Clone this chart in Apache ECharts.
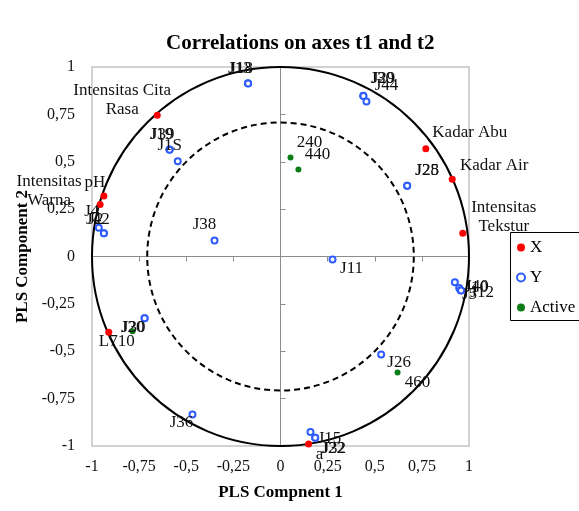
<!DOCTYPE html>
<html>
<head>
<meta charset="utf-8">
<script src="https://cdn.jsdelivr.net/npm/echarts@6/dist/echarts.min.js"></script>
<style>html,body{margin:0;padding:0;background:#fff}#c{width:579px;height:511px}</style>
</head>
<body>
<div id="c"></div>
<script>
// ---- data ----
const xNames = ['Intensitas Cita\nRasa', 'pH', 'Intensitas\nWarna', 'Kadar Abu', 'Kadar Air', 'Intensitas\nTekstur', '', 'L710', 'a'];
const xX = [-0.654, -0.937, -0.957, 0.771, 0.911, 0.967, 0.960, -0.911, 0.149];
const xY = [0.746, 0.319, 0.274, 0.568, 0.407, 0.123, -0.181, -0.400, -0.989];

const yNames = ['J13', 'J18', 'J30', 'J29', 'J44', 'J19', 'J39', 'J1S', 'J4', 'J42', 'J2', 'J38', 'J28', 'J25', 'J11', 'J40', 'J10', 'J5', 'J12', 'J30', 'J20', 'J36', 'J26', 'J15', 'J32', 'J22'];
const yX = [-0.173, -0.172, 0.439, 0.440, 0.456, -0.589, -0.588, -0.545, -0.964, -0.937, -0.937, -0.350, 0.672, 0.672, 0.276, 0.925, 0.948, 0.955, 0.958, -0.721, -0.721, -0.467, 0.534, 0.159, 0.184, 0.184];
const yY = [0.914, 0.913, 0.848, 0.847, 0.818, 0.564, 0.563, 0.503, 0.152, 0.123, 0.123, 0.085, 0.374, 0.374, -0.016, -0.136, -0.166, -0.178, -0.180, -0.326, -0.326, -0.834, -0.517, -0.926, -0.956, -0.956];

const aNames = ['240', '440', '460', ''];
const aX = [0.053, 0.095, 0.621, -0.785];
const aY = [0.522, 0.459, -0.612, -0.395];

const circleRadii = [1, 0.7071];
const axisMin = -1, axisMax = 1, axisStep = 0.25;

// ---- label offsets (style, px) ----
const xOff = [[-35,-15],[-9,-14],[-51,-14],[44,-16],[42,-14],[41,-16],[0,0],[8,9],[11,11]];
const yOff = [[-8,-15],[-7,-15],[19,-17],[20,-17],[20,-16],[-8,-15],[-7,-15],[-8,-16],[-7,-16],[-6,-14],[-8,-14],[-10,-16],[20,-15],[20,-15],[19,9],[22,4],[17,0],[9,4],[21,2],[-11,9],[-12,9],[-11,8],[18,8],[19,7],[19,11],[18,11]];
const aOff = [[19,-15],[19,-15],[20,10],[0,0]];

const serif = "'Liberation Serif', 'DejaVu Serif', serif";
const fmt = v => String(v).replace('.', ',');

function pts(xs, ys, names, offs) {
  return xs.map((x, i) => ({
    value: [x, ys[i]],
    name: names[i],
    label: { offset: offs[i] }
  }));
}
const lbl = {
  show: true, position: 'inside', formatter: p => p.name,
  fontFamily: serif, fontSize: 17, color: '#111', lineHeight: 19,
  align: 'center', verticalAlign: 'middle'
};

const chart = echarts.init(document.getElementById('c'), null, { renderer: 'canvas' });
chart.setOption({
  animation: false,
  backgroundColor: '#fff',
  title: {
    text: 'Correlations on axes t1 and t2', left: 161, top: 28,
    textStyle: { fontFamily: serif, fontSize: 21, fontWeight: 'bold', color: '#000' }
  },
  graphic: [{
    type: 'rect', z: 3, silent: true,
    shape: { x: 510.5, y: 232.5, width: 100, height: 88 },
    style: { fill: '#fff', stroke: '#000', lineWidth: 1 }
  }],
  legend: {
    orient: 'vertical', left: 510, top: 232, z: 5,
    padding: [7, 10, 6, 6], itemGap: 13, itemWidth: 8, itemHeight: 8,
    borderWidth: 0,
    textStyle: { fontFamily: serif, fontSize: 17, color: '#000', lineHeight: 16 },
    data: ['X', 'Y', 'Active']
  },
  grid: { left: 92, right: 110, top: 67, bottom: 65, show: true, borderColor: '#c4c4c4', borderWidth: 1.5 },
  xAxis: [
    {
      type: 'value', min: axisMin, max: axisMax, interval: axisStep, position: 'bottom',
      axisLine: { show: false, onZero: false }, axisTick: { show: false }, splitLine: { show: false },
      axisLabel: { formatter: fmt, fontFamily: serif, fontSize: 16, color: '#111', margin: 13 },
      name: 'PLS Compnent 1', nameLocation: 'middle', nameGap: 38,
      nameTextStyle: { fontFamily: serif, fontSize: 17, fontWeight: 'bold', color: '#000' }
    },
    {
      type: 'value', min: axisMin, max: axisMax, interval: axisStep, position: 'bottom',
      axisLine: { show: true, onZero: true, lineStyle: { color: '#8c8c8c', width: 1 } },
      axisTick: { show: true, inside: false, length: 5, lineStyle: { color: '#8c8c8c' } },
      axisLabel: { show: false }, splitLine: { show: false }
    }
  ],
  yAxis: [
    {
      type: 'value', min: axisMin, max: axisMax, interval: axisStep, position: 'left',
      axisLine: { show: false, onZero: false }, axisTick: { show: false }, splitLine: { show: false },
      axisLabel: { formatter: fmt, fontFamily: serif, fontSize: 16, color: '#111', margin: 17 },
      name: 'PLS Component 2', nameLocation: 'middle', nameGap: 59,
      nameTextStyle: { fontFamily: serif, fontSize: 17, fontWeight: 'bold', color: '#000' }
    },
    {
      type: 'value', min: axisMin, max: axisMax, interval: axisStep, position: 'left',
      axisLine: { show: true, onZero: true, lineStyle: { color: '#8c8c8c', width: 1 } },
      axisTick: { show: true, inside: true, length: 5, lineStyle: { color: '#8c8c8c' } },
      axisLabel: { show: false }, splitLine: { show: false }
    }
  ],
  series: [
    {
      type: 'custom', xAxisIndex: 0, yAxisIndex: 0, silent: true, z: 1,
      data: circleRadii.map((r, i) => [0, 0, r, i]),
      renderItem: (params, api) => {
        const c = api.coord([api.value(0), api.value(1)]);
        const s = api.size([api.value(2), api.value(2)]);
        const dashed = api.value(3) === 1;
        return {
          type: 'ellipse',
          shape: { cx: c[0], cy: c[1], rx: s[0], ry: s[1] },
          style: { fill: null, stroke: '#000', lineWidth: 2, lineDash: dashed ? [6, 4] : null }
        };
      }
    },
    {
      name: 'X', type: 'scatter', xAxisIndex: 0, yAxisIndex: 0, z: 3,
      symbol: 'circle', symbolSize: 7, itemStyle: { color: '#ff0000', opacity: 1 },
      label: lbl, data: pts(xX, xY, xNames, xOff)
    },
    {
      name: 'Y', type: 'scatter', xAxisIndex: 0, yAxisIndex: 0, z: 3,
      symbol: 'emptyCircle', symbolSize: 6,
      itemStyle: { color: '#2f5cff', borderColor: '#2f5cff', borderWidth: 1.1, opacity: 1 },
      label: lbl, data: pts(yX, yY, yNames, yOff)
    },
    {
      name: 'Active', type: 'scatter', xAxisIndex: 0, yAxisIndex: 0, z: 3,
      symbol: 'circle', symbolSize: 6, itemStyle: { color: '#0b7d16', opacity: 1 },
      label: lbl, data: pts(aX, aY, aNames, aOff)
    }
  ]
});
</script>
</body>
</html>
